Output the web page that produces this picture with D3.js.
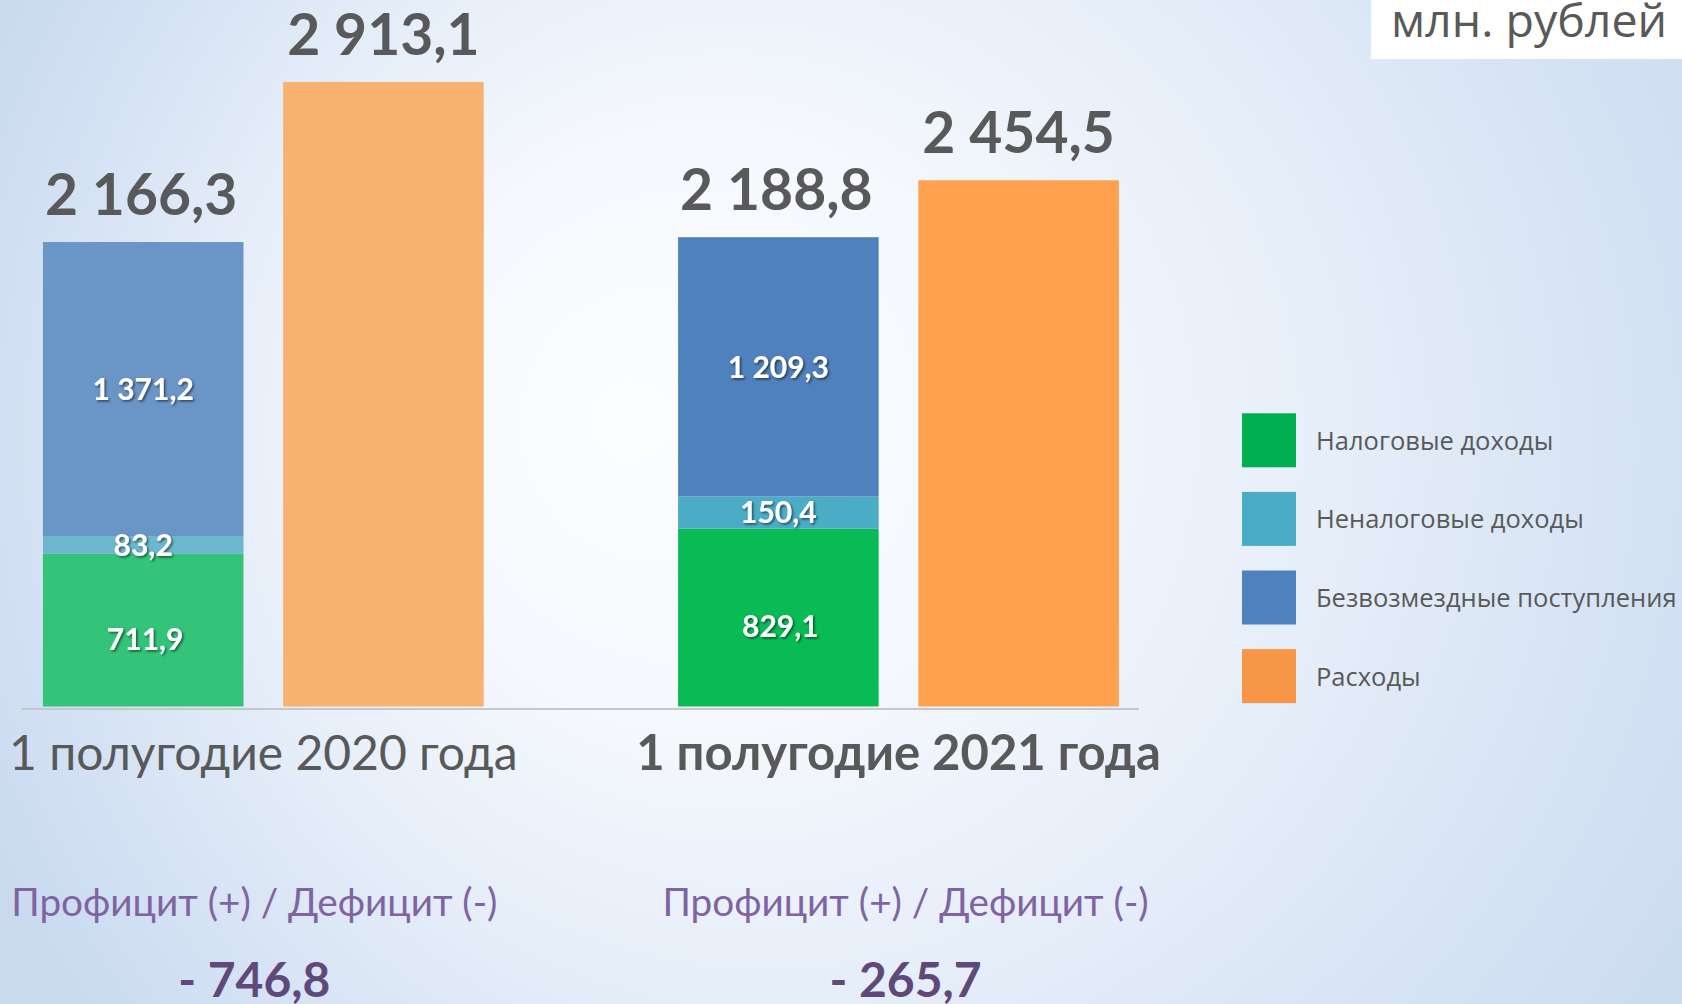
<!DOCTYPE html>
<html>
<head>
<meta charset="utf-8">
<script src="https://cdn.jsdelivr.net/npm/d3@7"></script>
<style>
    body { margin: 0; overflow: hidden; }
    text { font-family: Lato, "Open Sans", sans-serif; }
</style>
</head>
<body>
<div id="chart"></div>
<script>
// data (млн. рублей)
const periods = ["1 полугодие 2020 года", "1 полугодие 2021 года"];
const taxIncome = [711.9, 829.1];
const nonTaxIncome = [83.2, 150.4];
const transfers = [1371.2, 1209.3];
const expenses = [2913.1, 2454.5];
const balance = [-746.8, -265.7];
const seriesNames = ["Налоговые доходы", "Неналоговые доходы", "Безвозмездные поступления", "Расходы"];
const unitLabel = "млн. рублей";
const balanceLabel = "Профицит (+) / Дефицит (-)";

class BudgetChart {
    constructor() {
        this.width = 1682;
        this.height = 1004;
        this.baseY = 706.5;

        // first period is drawn a bit faded, like in the slide
        this.colors = [
            {tax: "#33c47a", nontax: "#6bb8ce", free: "#6a95c7", exp: "#f9b170"},
            {tax: "#08bb55", nontax: "#4bacc6", free: "#4f81bd", exp: "#ffa14f"}
        ];
        this.legendColors = ["#00b050", "#4bacc6", "#4f81bd", "#f79646"];

        this.svg = d3.select("#chart").append("svg")
            .attr("width", this.width)
            .attr("height", this.height);

        let defs = this.svg.append("defs");
        let grad = defs.append("radialGradient")
            .attr("id", "bg")
            .attr("gradientUnits", "userSpaceOnUse")
            .attr("cx", 900).attr("cy", 450).attr("r", 1000)
            .attr("fx", 620).attr("fy", 420);
        grad.append("stop").attr("offset", "0").attr("stop-color", "#fcfdff");
        grad.append("stop").attr("offset", "0.3").attr("stop-color", "#f5f8fd");
        grad.append("stop").attr("offset", "0.6").attr("stop-color", "#e3ecf8");
        grad.append("stop").attr("offset", "0.85").attr("stop-color", "#d2e0f3");
        grad.append("stop").attr("offset", "1").attr("stop-color", "#c9daef");

        let shadow = defs.append("filter").attr("id", "shadow")
            .attr("x", "-20%").attr("y", "-20%").attr("width", "140%").attr("height", "140%");
        shadow.append("feDropShadow")
            .attr("dx", 1.5).attr("dy", 1.5).attr("stdDeviation", 1)
            .attr("flood-color", "#000").attr("flood-opacity", 0.55);

        this.svg.append("rect")
            .attr("width", this.width)
            .attr("height", this.height)
            .attr("fill", "url(#bg)");
    }

    update() {
        let that = this;
        let fmt = d3.formatLocale({decimal: ",", thousands: " ", grouping: [3], currency: ["", ""]}).format(",.1f");

        let rows = periods.map((p, i) => ({
            period: p, i: i,
            tax: taxIncome[i], nontax: nonTaxIncome[i], free: transfers[i], exp: expenses[i],
            bal: balance[i]
        }));

        let x0 = d3.scaleBand().domain(periods).range([42.9, 1118.9]).paddingInner(0.306).paddingOuter(0);
        let x1 = d3.scaleBand().domain(["inc", "exp"]).range([0, x0.bandwidth()]).paddingInner(0.165);
        let yScale = d3.scaleLinear().domain([0, 3000]).range([this.baseY, this.baseY - 643.2]);

        let stack = d3.stack().keys(["tax", "nontax", "free"]);
        let layers = stack(rows);

        //income bars
        let groups = this.svg.selectAll(".period")
            .data(rows)
            .enter().append("g")
            .attr("class", "period")
            .attr("transform", d => "translate(" + x0(d.period) + ",0)");

        layers.forEach(layer => {
            groups.append("rect")
                .attr("x", x1("inc"))
                .attr("width", x1.bandwidth())
                .attr("y", d => yScale(layer[d.i][1]))
                .attr("height", d => yScale(layer[d.i][0]) - yScale(layer[d.i][1]))
                .style("fill", d => that.colors[d.i][layer.key]);
        });

        //expense bars
        groups.append("rect")
            .attr("x", x1("exp"))
            .attr("width", x1.bandwidth())
            .attr("y", d => yScale(d.exp))
            .attr("height", d => that.baseY - yScale(d.exp))
            .style("fill", d => that.colors[d.i].exp);

        //segment labels (the bottom one sits a little lower)
        layers.forEach(layer => {
            groups.append("text")
                .attr("x", x1("inc") + x1.bandwidth() / 2 + (layer.index === 0 ? 2 : 0))
                .attr("y", d => (yScale(layer[d.i][0]) + yScale(layer[d.i][1])) / 2 + (layer.index === 0 ? 9 : 0))
                .attr("dy", "0.36em")
                .attr("text-anchor", "middle")
                .attr("filter", "url(#shadow)")
                .style("font-weight", 700)
                .style("font-size", "30px")
                .style("fill", "#fff")
                .text(d => fmt(d[layer.key]));
        });

        //totals above bars
        groups.append("text")
            .attr("x", x1("inc") + x1.bandwidth() / 2 - 2)
            .attr("y", d => yScale(d.tax + d.nontax + d.free) - 27)
            .attr("text-anchor", "middle")
            .style("font-weight", 700)
            .style("font-size", "57px")
            .style("fill", "#595959")
            .text(d => fmt(d.tax + d.nontax + d.free));

        groups.append("text")
            .attr("x", x1("exp") + x1.bandwidth() / 2)
            .attr("y", d => yScale(d.exp) - 27)
            .attr("text-anchor", "middle")
            .style("font-weight", 700)
            .style("font-size", "57px")
            .style("fill", "#595959")
            .text(d => fmt(d.exp));

        // axis line
        this.svg.append("line")
            .attr("x1", 21.5).attr("x2", 1139)
            .attr("y1", 709).attr("y2", 709)
            .style("stroke", "#c4c8cc")
            .style("stroke-width", 2);

        //category labels
        groups.append("text")
            .attr("x", x0.bandwidth() / 2)
            .attr("y", 770)
            .attr("text-anchor", "middle")
            .style("font-size", d => d.i === 1 ? "49px" : "48px")
            .style("font-weight", d => d.i === 1 ? 700 : 400)
            .style("fill", "#595959")
            .text(d => d.period);

        //balance, its text boxes are shifted a bit from the bar groups
        let balShift = [-9, 7];
        groups.append("text")
            .attr("x", d => x0.bandwidth() / 2 + balShift[d.i])
            .attr("y", 916)
            .attr("text-anchor", "middle")
            .style("font-size", "38.7px")
            .style("fill", "#8064a2")
            .text(balanceLabel);

        groups.append("text")
            .attr("x", d => x0.bandwidth() / 2 + balShift[d.i])
            .attr("y", 997)
            .attr("text-anchor", "middle")
            .style("font-size", "48px")
            .style("font-weight", 700)
            .style("fill", "#5f497a")
            .text(d => (d.bal < 0 ? "- " : "+ ") + fmt(Math.abs(d.bal)));

        //legend
        let legend = this.svg.selectAll(".legend")
            .data(seriesNames)
            .enter().append("g")
            .attr("class", "legend")
            .attr("transform", (d, i) => "translate(1242," + (413.3 + i * 78.6) + ")");
        legend.append("rect")
            .attr("width", 54).attr("height", 54)
            .style("fill", (d, i) => that.legendColors[i]);
        legend.append("text")
            .attr("x", 74)
            .attr("y", 27)
            .attr("dy", "0.37em")
            .style("font-family", "'Open Sans', sans-serif")
            .style("font-size", "25.5px")
            .style("fill", "#595959")
            .text(d => d);

        // unit box, top right
        this.svg.append("rect")
            .attr("x", 1371).attr("y", 0)
            .attr("width", 311).attr("height", 59)
            .style("fill", "#fff");
        this.svg.append("text")
            .attr("x", 1391)
            .attr("y", 37)
            .style("font-family", "'Open Sans', sans-serif")
            .style("font-size", "46.5px")
            .style("fill", "#595959")
            .text(unitLabel);
    }
}

let chart = new BudgetChart();
chart.update();
</script>
</body>
</html>
